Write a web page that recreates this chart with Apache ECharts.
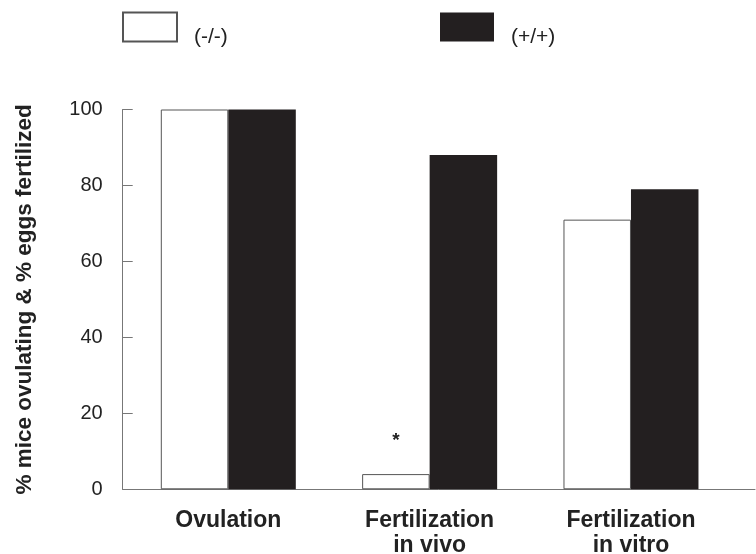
<!DOCTYPE html>
<html>
<head>
<meta charset="utf-8">
<script src="https://cdn.jsdelivr.net/npm/echarts@6/dist/echarts.min.js"></script>
<style>html,body{margin:0;padding:0;background:#fff}#c{width:756px;height:554px}</style>
</head>
<body>
<div id="c"></div>
<script>
var categories = ['Ovulation', 'Fertilization\nin vivo', 'Fertilization\nin vitro'];
var knockoutValues = [100, 4, 71];   // (-/-)
var wildtypeValues = [100, 88, 79];  // (+/+)
var yTicks = [0, 20, 40, 60, 80, 100];
var starIndex = 1;

var chart = echarts.init(document.getElementById('c'));
var font = 'Liberation Sans, Arial, Helvetica, sans-serif';

var koData = knockoutValues.map(function (v, i) {
  var d = { value: [i, v] };
  if (i === starIndex) {
    d.label = { show: true, position: 'top', distance: 24, formatter: '*',
      fontSize: 19, fontWeight: 'bold', color: '#222', fontFamily: font };
  }
  return d;
});
var wtData = wildtypeValues.map(function (v, i) { return [i, v]; });

var legendText = { fontSize: 21, color: '#222', fontFamily: font, lineHeight: 20, padding: [0, 0, 0, 12] };
function legendFmt(name) { return '\n' + name; }

chart.setOption({
  animation: false,
  backgroundColor: '#fff',
  grid: { left: 122.7, right: 1, top: 109.5, bottom: 64.7, containLabel: false, outerBoundsMode: 'none' },
  legend: [
    { data: ['(-/-)'], left: 122, top: 6.5, padding: 0, icon: 'rect', itemWidth: 54, itemHeight: 29,
      selectedMode: false, formatter: legendFmt, textStyle: legendText },
    { data: ['(+/+)'], left: 440, top: 6.5, padding: 0, icon: 'rect', itemWidth: 54, itemHeight: 29,
      selectedMode: false, formatter: legendFmt, textStyle: legendText }
  ],
  xAxis: {
    type: 'value',
    min: -0.5245,
    max: 2.616,
    splitLine: { show: false },
    axisLine: { show: true, onZero: false, lineStyle: { color: '#777', width: 1 } },
    axisTick: { show: false },
    axisLabel: {
      customValues: [0, 1, 2],
      formatter: function (v) { return categories[Math.round(v)]; },
      fontSize: 23, fontWeight: 'bold', color: '#222', fontFamily: font,
      lineHeight: 25, margin: 19
    }
  },
  yAxis: {
    type: 'value',
    min: 0, max: 100, interval: 20,
    splitLine: { show: false },
    axisLine: { show: true, onZero: false, lineStyle: { color: '#777', width: 1 } },
    axisTick: { show: true, inside: true, length: 10, lineStyle: { color: '#777' } },
    axisLabel: {
      formatter: function (v) { return yTicks.indexOf(v) >= 0 ? String(v) : ''; },
      fontSize: 20, color: '#222', fontFamily: font, margin: 20
    },
    name: '% mice ovulating & % eggs fertilized',
    nameLocation: 'middle',
    nameGap: 86,
    nameTextStyle: { fontSize: 22.5, fontWeight: 'bold', color: '#222', fontFamily: font }
  },
  series: [
    { name: '(-/-)', type: 'bar', data: koData, barWidth: 67.5, barGap: '0%',
      itemStyle: { color: '#ffffff', borderColor: '#555', borderWidth: 1 } },
    { name: '(+/+)', type: 'bar', data: wtData, barWidth: 67.5, barGap: '0%',
      itemStyle: { color: '#231f20' } }
  ]
});
</script>
</body>
</html>
